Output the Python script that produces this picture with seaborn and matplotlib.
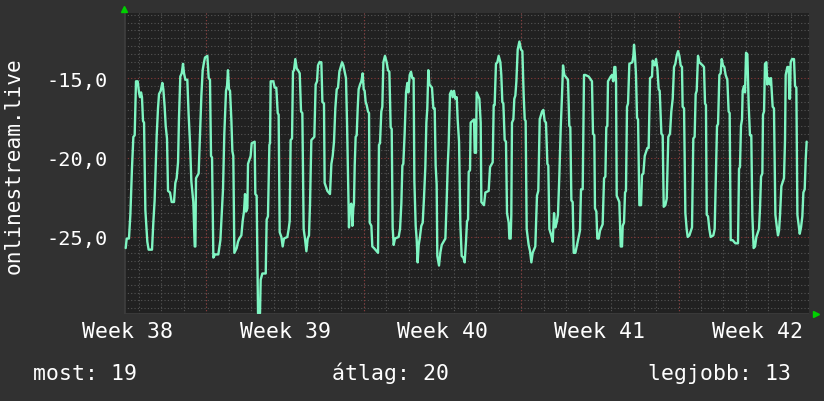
import numpy as np
import pandas as pd
import matplotlib
matplotlib.use("Agg")
import matplotlib.pyplot as plt
import seaborn as sns

# ---- data: hours since the left edge of the graph, and measured values ----
hours_a = [1.8, 2.9, 5.3, 6.8, 8.5, 10.0, 11.4, 12.8, 14.6, 16.0,
           17.1, 18.2, 19.2, 20.3, 21.4, 22.8, 24.9, 26.3, 29.9, 31.3,
           32.7, 34.9, 36.3, 37.4, 39.2, 40.9, 42.0, 43.4, 44.5, 45.9,
           47.0, 49.1, 50.9, 53.4, 54.8, 56.2, 57.7, 58.7, 60.1, 61.6,
           63.0, 64.1, 65.5, 67.6, 69.0, 70.5, 71.9, 74.0, 75.5, 76.2,
           76.9, 79.7, 81.1, 82.6, 84.0, 85.4, 86.5, 89.0, 90.4, 91.8,
           92.9, 94.0, 95.4, 97.2, 100.7, 102.9, 103.9, 105.7, 106.4, 107.1,
           108.2, 108.9, 110.0, 111.0, 112.1, 113.2, 114.6, 115.7, 116.7]
values_a = [-25.7, -25.1, -25.1, -23.6, -20.7, -18.7, -18.6, -15.2, -15.2, -15.9,
            -16.2, -15.9, -16.2, -17.7, -17.8, -23.3, -25.3, -25.8, -25.8, -24.1,
            -22.7, -18.6, -16.9, -16.0, -15.8, -15.3, -15.7, -16.8, -18.0, -18.8,
            -22.1, -22.2, -22.8, -22.8, -21.6, -21.3, -20.3, -17.5, -14.9, -14.7,
            -14.1, -14.7, -15.1, -15.1, -17.3, -19.1, -21.5, -22.8, -25.6, -25.6,
            -21.3, -21.0, -18.6, -16.1, -14.5, -14.0, -13.7, -13.6, -15.0, -15.1,
            -19.9, -20.0, -26.3, -26.1, -26.1, -25.2, -24.1, -22.0, -20.2, -18.5,
            -16.9, -15.8, -15.5, -14.5, -15.7, -15.8, -17.6, -19.6, -19.9]

hours_b = [117.8, 120.3, 121.7, 123.1, 125.3, 126.7, 128.1, 129.2, 130.3, 131.7,
           132.4, 135.2, 136.3, 139.5, 140.2, 141.6, 143.1, 145.2, 145.9, 147.7,
           151.3, 152.3, 153.7, 155.2, 155.9, 156.6, 159.4, 160.9, 162.6, 164.1,
           165.1, 166.2, 168.0, 169.4, 170.8, 174.4, 175.8, 176.9, 177.9, 179.4,
           180.4, 181.5, 182.9, 184.4, 185.8, 187.6, 189.0, 190.4, 191.8, 193.2,
           194.7, 196.1, 197.5, 198.6, 200.0, 203.2, 204.6, 206.1, 207.1, 208.6,
           210.7, 211.8, 213.5, 214.2, 217.1, 219.9, 221.4, 222.8, 224.2, 225.6,
           227.1, 228.5, 229.9, 231.3, 232.8, 234.2, 237.0, 238.1, 238.8, 240.2]
values_b = [-26.0, -25.7, -25.3, -25.1, -24.9, -24.0, -23.4, -22.3, -23.4, -23.2,
            -20.4, -19.9, -19.1, -19.0, -22.3, -22.4, -29.8, -29.8, -27.7, -27.3,
            -27.3, -23.9, -23.7, -19.2, -19.1, -15.2, -15.2, -15.6, -15.6, -17.2,
            -17.3, -24.7, -25.0, -25.6, -25.1, -25.0, -24.5, -24.0, -18.9, -18.8,
            -14.6, -14.5, -13.8, -14.4, -14.5, -14.7, -17.1, -17.2, -24.5, -25.1,
            -25.9, -25.1, -24.9, -22.9, -18.9, -18.7, -15.4, -15.2, -14.2, -14.0,
            -14.0, -16.5, -16.6, -21.6, -22.1, -22.3, -20.4, -19.9, -19.0, -16.9,
            -15.7, -15.6, -14.6, -14.3, -14.0, -14.2, -15.0, -17.8, -20.0, -24.4]

hours_c = [240.9, 242.7, 243.8, 244.8, 245.5, 246.3, 247.3, 248.4, 249.5, 250.5,
           252.0, 253.4, 254.8, 255.9, 256.9, 258.0, 259.1, 260.5, 261.6, 262.3,
           264.1, 265.1, 266.9, 271.2, 272.2, 273.3, 274.7, 275.8, 276.9, 278.6,
           280.4, 281.8, 283.3, 284.7, 285.8, 286.8, 287.9, 289.3, 293.2, 294.7,
           296.1, 297.2, 298.2, 299.6, 301.1, 302.5, 303.6, 305.0, 306.4, 307.8,
           309.2, 310.0, 311.4, 312.5, 313.5, 314.6, 315.7, 317.4, 318.9, 320.3,
           321.7, 322.8, 323.8, 324.9, 326.0, 328.8, 330.3, 331.7, 332.7, 333.8,
           334.5, 336.3, 337.7, 339.2, 343.1, 344.5, 345.6, 346.6, 348.0, 349.5,
           350.9, 352.3, 353.7, 355.2, 356.2, 357.7, 359.1, 360.5, 362.3, 363.7]
values_c = [-23.1, -22.9, -24.3, -23.2, -22.9, -20.5, -18.7, -18.6, -16.9, -15.7,
            -15.4, -15.2, -14.7, -15.7, -15.8, -16.5, -16.7, -17.1, -17.2, -24.1,
            -24.3, -25.6, -25.7, -26.0, -19.2, -19.1, -17.1, -16.8, -14.0, -13.6,
            -14.0, -14.5, -14.6, -18.1, -18.2, -24.4, -25.5, -25.1, -25.0, -24.5,
            -22.9, -20.5, -20.4, -18.5, -15.9, -15.3, -15.9, -14.8, -14.6, -15.0,
            -15.0, -21.5, -24.3, -25.2, -26.6, -25.5, -25.1, -24.3, -24.1, -22.5,
            -20.6, -17.8, -16.9, -14.5, -15.4, -15.6, -16.9, -16.9, -20.5, -21.7,
            -26.2, -26.8, -26.0, -25.5, -25.1, -22.7, -20.5, -19.2, -16.0, -15.8,
            -16.2, -15.8, -16.3, -16.2, -17.6, -19.0, -24.2, -26.2, -26.3, -26.6]

hours_d = [365.1, 366.2, 367.3, 368.0, 369.4, 370.1, 373.7, 374.4, 375.8, 376.5,
           379.4, 380.8, 381.5, 384.3, 385.8, 389.3, 390.8, 393.6, 394.7, 395.7,
           397.1, 398.6, 400.0, 401.8, 402.8, 403.9, 405.0, 406.4, 407.8, 408.9,
           410.7, 411.4, 412.8, 413.5, 414.2, 415.7, 416.7, 417.8, 418.9, 420.3,
           422.1, 423.8, 425.3, 426.7, 427.8, 428.8, 429.9, 432.0, 433.5, 434.9,
           436.3, 439.1, 440.9, 442.3, 443.8, 446.3, 447.7, 449.1, 450.5, 452.0,
           453.0, 454.1, 456.2, 457.7, 459.1, 460.5, 461.9, 463.3, 464.8, 466.2,
           467.6, 468.7, 470.1, 474.0, 475.4, 476.5, 477.6, 479.0, 480.1, 481.9, 484.7]
values_d = [-25.3, -24.0, -23.9, -20.9, -20.8, -17.8, -17.6, -19.7, -19.7, -15.9,
            -16.3, -17.8, -22.8, -23.0, -22.2, -22.1, -20.6, -20.3, -16.7, -16.7,
            -14.1, -14.0, -13.6, -14.0, -14.8, -16.5, -16.6, -18.9, -19.0, -23.5,
            -24.1, -25.1, -25.1, -23.6, -17.8, -17.6, -16.3, -16.1, -15.2, -13.2,
            -12.7, -13.2, -13.3, -16.1, -17.6, -17.7, -24.5, -25.5, -25.9, -26.6,
            -26.0, -25.6, -22.4, -22.1, -17.6, -17.1, -17.0, -17.7, -17.8, -20.4,
            -20.5, -24.5, -24.9, -25.3, -23.5, -24.4, -24.1, -23.6, -21.1, -18.2,
            -16.1, -14.2, -14.8, -15.1, -18.0, -18.1, -22.7, -22.8, -26.0, -26.0, -25.2]

hours_e = [486.8, 487.9, 489.7, 491.1, 492.5, 496.1, 499.6, 500.7, 502.1, 502.8,
           504.3, 505.3, 506.8, 508.2, 511.0, 512.5, 513.9, 514.9, 516.0, 516.7,
           519.6, 521.0, 522.4, 523.5, 524.6, 525.3, 526.0, 528.8, 530.3, 531.7,
           532.4, 533.8, 534.9, 535.9, 537.0, 538.1, 539.5, 542.7, 543.8, 544.5,
           545.5, 546.6, 547.7, 548.8, 550.2, 552.0, 553.0, 554.5, 555.9, 558.7,
           560.1, 561.6, 563.7, 564.4, 566.6, 568.0, 569.4, 570.8, 571.9, 573.7,
           575.1, 576.2, 577.9, 579.4, 581.1, 582.9, 584.3, 585.8, 587.2, 588.6,
           590.0, 591.5, 592.9, 594.3, 595.7, 596.4, 597.9, 599.3, 600.7, 601.8,
           603.6, 606.4, 607.8]
values_e = [-24.6, -22.0, -22.0, -14.8, -14.8, -14.9, -15.2, -18.5, -18.6, -23.2,
            -23.4, -25.1, -25.1, -24.6, -24.2, -21.3, -21.2, -18.1, -18.0, -15.2,
            -14.9, -14.8, -15.2, -14.3, -14.3, -15.2, -22.4, -22.8, -25.6, -25.6,
            -24.3, -24.1, -22.2, -22.1, -16.8, -16.6, -14.1, -14.0, -13.6, -12.9,
            -13.6, -14.8, -17.5, -17.6, -23.0, -23.0, -21.1, -21.0, -19.9, -19.4,
            -19.4, -15.0, -14.9, -13.9, -14.2, -13.8, -14.4, -15.7, -15.8, -18.5,
            -18.6, -23.1, -23.0, -22.6, -18.7, -18.5, -17.1, -16.3, -14.3, -14.1,
            -13.6, -13.3, -13.6, -14.2, -14.3, -16.8, -16.9, -23.5, -24.5, -25.0,
            -24.9, -24.4, -18.8]

hours_f = [609.2, 610.3, 611.4, 612.8, 614.2, 617.8, 619.2, 620.3, 621.3, 622.1,
           623.5, 624.9, 626.3, 629.2, 630.6, 632.0, 633.1, 634.2, 635.6, 637.0,
           638.1, 639.5, 640.9, 642.3, 644.1, 645.5, 646.6, 647.7, 649.8, 652.7,
           655.5, 656.6, 657.6, 658.7, 659.8, 660.5, 661.9, 663.0, 664.1, 665.5,
           666.9, 668.3, 669.7, 670.8, 672.2, 673.7, 675.1, 677.9, 679.0, 680.1,
           681.5, 682.2, 683.3, 684.3, 685.8, 686.8, 688.2, 689.7, 690.7, 692.5,
           693.9, 695.4, 696.8, 698.2, 699.3, 700.4, 701.8, 704.6, 705.7, 706.4,
           708.2, 709.6, 710.3, 711.0, 711.7, 713.2, 715.3, 716.4, 717.8, 718.9,
           720.3, 721.4, 722.8, 724.2, 725.3, 726.7, 727.8, 728.8]
values_f = [-18.7, -16.0, -15.8, -13.6, -14.0, -14.2, -14.3, -16.6, -16.7, -23.6,
            -23.7, -24.5, -25.0, -24.9, -24.5, -21.0, -18.0, -17.9, -14.8, -14.7,
            -13.8, -14.2, -14.3, -14.8, -15.1, -17.1, -17.2, -25.2, -25.2, -25.4,
            -25.4, -20.7, -20.6, -18.0, -17.6, -15.8, -15.5, -15.9, -13.4, -13.5,
            -16.7, -18.6, -18.6, -23.6, -25.7, -25.6, -25.0, -24.5, -23.2, -21.2,
            -21.0, -17.3, -17.1, -14.1, -14.0, -15.4, -15.0, -15.4, -15.0, -16.8,
            -16.9, -23.6, -24.3, -24.9, -24.6, -23.6, -21.8, -21.3, -18.9, -14.8,
            -14.3, -14.3, -16.3, -16.3, -14.0, -13.8, -13.8, -15.5, -15.6, -23.6,
            -24.3, -24.8, -24.4, -23.7, -22.2, -22.0, -20.1, -19.0]

week_labels = ["Week 38", "Week 39", "Week 40", "Week 41", "Week 42"]
week_centers = [4, 172, 340, 508, 676]          # hours (middle of each week)
week_bounds = [88, 256, 424, 592]               # hours (week boundaries)
ytick_values = [-25, -20, -15]
ytick_labels = ["-25,0", "-20,0", "-15,0"]
y_title = "onlinestream.live"
legend_texts = ["most: 19", "átlag: 20", "legjobb: 13"]

hours = hours_a + hours_b + hours_c + hours_d + hours_e + hours_f
values = values_a + values_b + values_c + values_d + values_e + values_f
assert len(hours) == len(values)
df = pd.DataFrame({"hour": hours, "value": values})

# ---- styling ----
sns.set_theme(style="dark")
plt.rcParams["font.family"] = ["DejaVu Sans Mono", "DejaVu Sans"]

W, H = 824, 402
fig = plt.figure(figsize=(W / 100, H / 100), dpi=100, facecolor="#313131")
L, R, T, B = 124, 809, 14, 315
ax = fig.add_axes([L / W, 1 - B / H, (R - L) / W, (B - T) / H])
ax.set_facecolor("#212121")

XMAX = 731.3
ax.set_xlim(0, XMAX)
ax.set_ylim(-29.85, -10.9)

# grid
ax.set_yticks(ytick_values)
ax.set_yticklabels(ytick_labels)
ax.set_yticks(np.arange(-29.5, -10.9, 0.5), minor=True)
ax.set_xticks(week_centers)
ax.set_xticklabels(week_labels)
ax.set_xticks(np.arange(16, XMAX, 24), minor=True)

minor_style = dict(color="#555555", linestyle=(0, (1, 2)), linewidth=0.8)
ax.yaxis.grid(True, which="minor", **minor_style)
ax.xaxis.grid(True, which="minor", **minor_style)
ax.xaxis.grid(False, which="major")
ax.yaxis.grid(True, which="major", color="#8a3a3a", linestyle=(0, (1, 2)), linewidth=0.8)
for xb in week_bounds:
    ax.axvline(xb, color="#8a3a3a", linestyle=(0, (1, 2)), linewidth=0.8, zorder=1.5)

ax.tick_params(axis="both", which="both", length=0, colors="white")
ax.tick_params(axis="y", pad=12, labelsize=14.6)
ax.tick_params(axis="x", pad=5, labelsize=15.5)

for s in ax.spines.values():
    s.set_visible(False)
ax.axvline(0, color="#3c3c3c", lw=2, zorder=1.6)
ax.axhline(-29.85, color="#3c3c3c", lw=2, zorder=1.6)

sns.lineplot(data=df, x="hour", y="value", ax=ax, color="#7ff5c2",
             linewidth=1.7, zorder=3, legend=False)
ax.set_xlabel("")
ax.set_ylabel("")

# arrows
ax.plot([0], [1.013], marker="^", color="#00d000", ms=5, transform=ax.transAxes, clip_on=False)
ax.plot([1.0095], [0.0], marker=">", color="#00d000", ms=5, transform=ax.transAxes, clip_on=False)

fig.text(14 / W, 1 - 166 / H, y_title, rotation=90, color="white",
         fontsize=15.2, ha="center", va="center")
fig.text(33 / W, 1 - 380 / H, legend_texts[0], color="white", fontsize=15.5, ha="left", va="baseline")
fig.text(391 / W, 1 - 380 / H, legend_texts[1], color="white", fontsize=15.5, ha="center", va="baseline")
fig.text(791 / W, 1 - 380 / H, legend_texts[2], color="white", fontsize=15.5, ha="right", va="baseline")

fig.savefig("out.png", dpi=100, facecolor=fig.get_facecolor())
